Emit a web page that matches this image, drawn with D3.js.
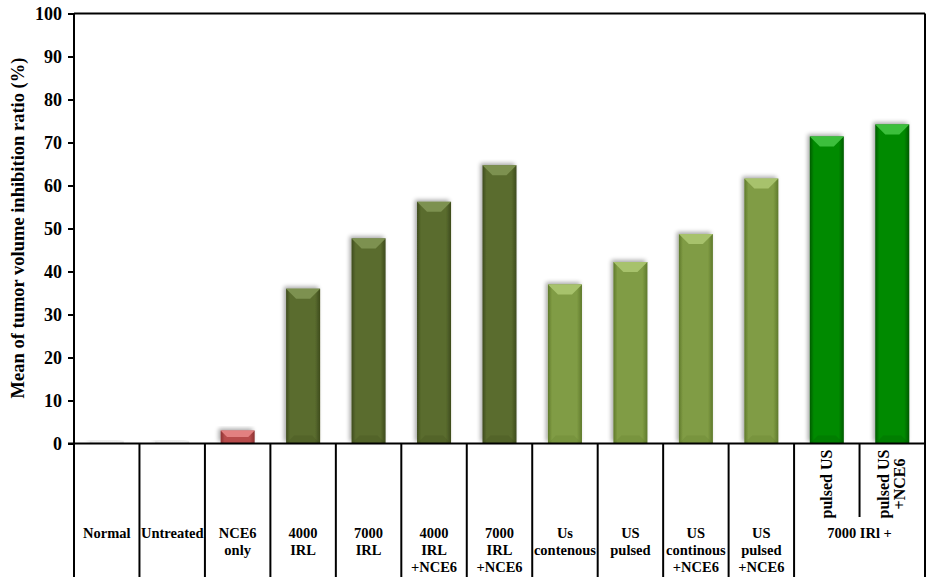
<!DOCTYPE html>
<html>
<head>
<meta charset="utf-8">
<script src="https://cdn.jsdelivr.net/npm/d3@7"></script>
<style>
  body { margin: 0; background: #fff; }
  svg { display: block; font-family: "Liberation Serif", "Times New Roman", serif; font-weight: bold; }
</style>
</head>
<body>
<svg id="chart" width="937" height="577"></svg>
<script>
// data
const categories = ["Normal", "Untreated", "NCE6 only", "4000 IRL", "7000 IRL",
  "4000 IRL +NCE6", "7000 IRL +NCE6", "Us contenous", "US pulsed",
  "US continous +NCE6", "US pulsed +NCE6", "pulsed US", "pulsed US +NCE6"];
const labelLines = [["Normal"], ["Untreated"], ["NCE6", "only"], ["4000", "IRL"], ["7000", "IRL"],
  ["4000", "IRL", "+NCE6"], ["7000", "IRL", "+NCE6"], ["Us", "contenous"], ["US", "pulsed"],
  ["US", "continous", "+NCE6"], ["US", "pulsed", "+NCE6"], ["pulsed US"], ["pulsed US", "+NCE6"]];
const values = [0, 0, 3, 36, 47.7, 56.2, 64.7, 37, 42.2, 48.7, 61.6, 71.4, 74.2];
const groups = ["grey", "grey", "red", "dark", "dark", "dark", "dark",
  "light", "light", "light", "light", "green", "green"];
const spanLabel = "7000 IRl +";
const yTicks = [0, 10, 20, 30, 40, 50, 60, 70, 80, 90, 100];

const palette = {
  grey:  { mid: "#d8d8d8", edge: "#c4c4c4", top: "#e6e6e6" },
  red:   { mid: "#b84c4c", edge: "#8c3232", top: "#e28080" },
  dark:  { mid: "#5a6c2e", edge: "#3e4b1d", top: "#7d9150" },
  light: { mid: "#809c44", edge: "#5f7a2c", top: "#a7c26c" },
  green: { mid: "#068a06", edge: "#005a00", top: "#3cbf3c" }
};

const svg = d3.select("#chart");
const pLeft = 74, pRight = 925, pTop = 13.5, base = 443.5, pBottom = 577;

const y = d3.scaleLinear().domain([0, 100]).range([base, pTop]);
const cell = d3.scaleBand().domain(categories).range([pLeft, pRight]).padding(0);
const x = d3.scaleBand().domain(categories).range([pLeft, pRight]).paddingInner(0.48).paddingOuter(0.24);

// gradients + shadow
const defs = svg.append("defs");
Object.entries(palette).forEach(([k, c]) => {
  let g = defs.append("linearGradient").attr("id", "g-" + k).attr("x1", 0).attr("x2", 1).attr("y1", 0).attr("y2", 0);
  g.append("stop").attr("offset", "0").attr("stop-color", c.edge);
  g.append("stop").attr("offset", "0.12").attr("stop-color", c.mid);
  g.append("stop").attr("offset", "0.85").attr("stop-color", c.mid);
  g.append("stop").attr("offset", "1").attr("stop-color", c.edge);
});
let f = defs.append("filter").attr("id", "shadow").attr("x", "-30%").attr("y", "-30%").attr("width", "160%").attr("height", "160%");
f.append("feGaussianBlur").attr("in", "SourceAlpha").attr("stdDeviation", 2);
f.append("feOffset").attr("dx", -2).attr("dy", -2).attr("result", "b");
f.append("feComponentTransfer").append("feFuncA").attr("type", "linear").attr("slope", 0.35);
let m = f.append("feMerge");
m.append("feMergeNode");
m.append("feMergeNode").attr("in", "SourceGraphic");

// frame: top and right
svg.append("line").attr("x1", pLeft).attr("x2", pRight).attr("y1", pTop).attr("y2", pTop)
  .attr("stroke", "#000").attr("stroke-width", 2);
svg.append("line").attr("x1", pRight).attr("x2", pRight).attr("y1", pTop).attr("y2", pBottom)
  .attr("stroke", "#000").attr("stroke-width", 2);

// bars
const data = categories.map((c, i) => ({ c, v: values[i], g: groups[i] }));
const bars = svg.append("g").selectAll("g").data(data).join("g");
const bw = x.bandwidth();

bars.append("rect")
  .attr("x", d => x(d.c))
  .attr("y", d => d.v > 0 ? y(d.v) : y(0) - 2)
  .attr("width", bw)
  .attr("height", d => d.v > 0 ? y(0) - y(d.v) : 2)
  .attr("fill", d => "url(#g-" + d.g + ")")
  .attr("filter", "url(#shadow)")
  .attr("opacity", d => d.v > 0 ? 1 : 0.6);

// top bevel
bars.filter(d => d.v > 0).append("polygon")
  .attr("points", d => {
    let x0 = x(d.c), x1 = x0 + bw, t = y(d.v);
    let b = Math.min(10, (y(0) - t) / 2);
    return [[x0, t], [x1, t], [x1 - b, t + b], [x0 + b, t + b]].join(" ");
  })
  .attr("fill", d => palette[d.g].top);
// bottom bevel
bars.filter(d => d.v > 5).append("polygon")
  .attr("points", d => {
    let x0 = x(d.c), x1 = x0 + bw, b0 = y(0);
    return [[x0 + 8, b0 - 8], [x1 - 8, b0 - 8], [x1, b0], [x0, b0]].join(" ");
  })
  .attr("fill", d => palette[d.g].edge).attr("opacity", 0.25);

// y axis
const yAxis = d3.axisLeft(y).tickValues(yTicks).tickSize(6).tickPadding(6);
const ya = svg.append("g").attr("transform", `translate(${pLeft},0)`).call(yAxis);
ya.select(".domain").remove();
ya.selectAll(".tick line").attr("stroke", "#000").attr("stroke-width", 2);
ya.selectAll(".tick text").attr("font-size", 18).attr("font-weight", "bold")
  .attr("font-family", "Liberation Serif").attr("fill", "#000");
svg.append("line").attr("x1", pLeft).attr("x2", pLeft).attr("y1", pTop).attr("y2", pBottom)
  .attr("stroke", "#000").attr("stroke-width", 2);
svg.append("line").attr("x1", pLeft - 6).attr("x2", pRight).attr("y1", base).attr("y2", base)
  .attr("stroke", "#000").attr("stroke-width", 2);

svg.append("text")
  .attr("transform", "translate(24,228) rotate(-90)")
  .attr("text-anchor", "middle").attr("font-size", 18.5)
  .text("Mean of tumor volume inhibition ratio (%)");

// table under the axis
const step = cell.step();
categories.forEach((c, i) => {
  if (i === 0) return;
  let xx = cell(c);
  let last = i === categories.length - 1;
  svg.append("line").attr("x1", xx).attr("x2", xx)
    .attr("y1", base).attr("y2", last ? 517 : pBottom)
    .attr("stroke", "#000").attr("stroke-width", 2);
});

const lab = svg.append("g").attr("font-size", 14.5).attr("text-anchor", "middle");
categories.forEach((c, i) => {
  let cx = cell(c) + step / 2;
  if (groups[i] === "green") {
    let lines = labelLines[i];
    let n = lines.length;
    let t = lab.append("text").attr("font-size", 16)
      .attr("transform", `translate(${cx},484) rotate(-90)`);
    lines.forEach((s, j) => {
      t.append("tspan").attr("x", 0).attr("y", (j - (n - 1) / 2) * 16 + 5).text(s);
    });
  } else {
    let t = lab.append("text");
    labelLines[i].forEach((s, j) => {
      t.append("tspan").attr("x", cx).attr("y", 538 + j * 17).text(s);
    });
  }
});
const spanX = (cell(categories[11]) + cell(categories[12]) + step) / 2;
lab.append("text").attr("x", spanX).attr("y", 538).text(spanLabel);
</script>
</body>
</html>
